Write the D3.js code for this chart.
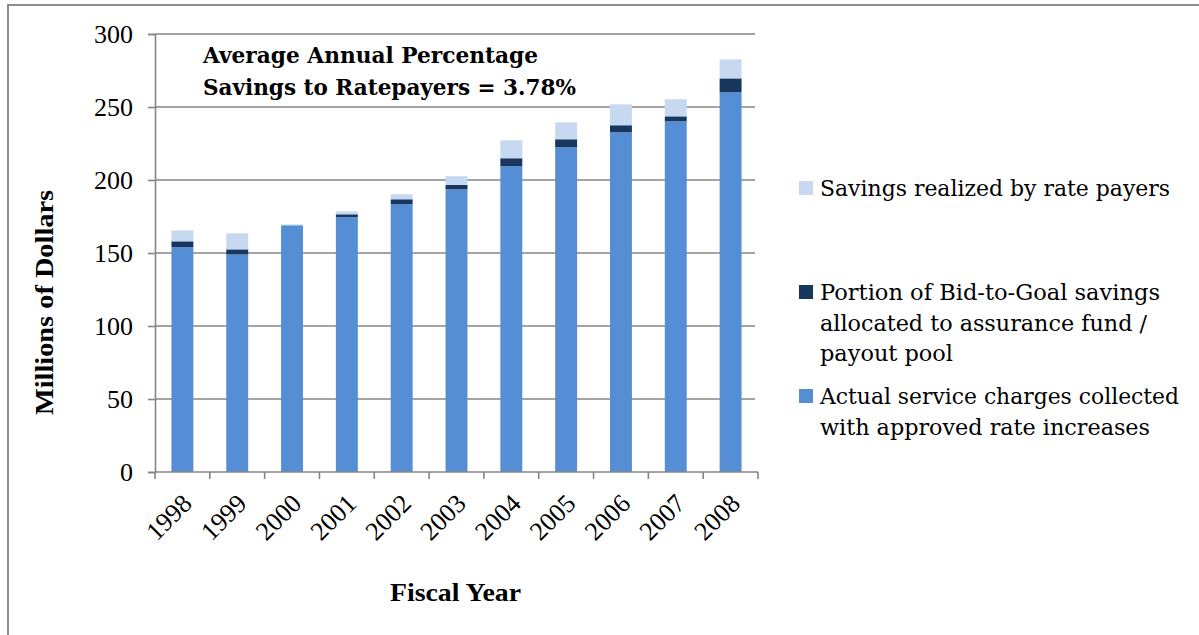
<!DOCTYPE html>
<html><head><meta charset="utf-8">
<script src="https://cdn.jsdelivr.net/npm/d3@7"></script>
<style>body{margin:0;background:#fff}svg{display:block}</style>
</head><body>
<svg id="c" width="1199" height="635"></svg>
<script>
const years = ["1998","1999","2000","2001","2002","2003","2004","2005","2006","2007","2008"];
const actualCharges = [154, 149, 169, 174.5, 183.4, 193.6, 209.4, 222.4, 232.7, 240.2, 260];
const assurancePortion = [4, 3.5, 0, 2, 3.4, 3, 5.5, 5.5, 4.8, 3.4, 9.6];
const ratepayerSavings = [7.5, 11, 0.6, 2, 3.4, 6, 12.3, 11.6, 14.3, 11.7, 13];
const yTicks = [0, 50, 100, 150, 200, 250, 300];
const seriesNames = ["Actual service charges collected with approved rate increases",
  "Portion of Bid-to-Goal savings allocated to assurance fund / payout pool",
  "Savings realized by rate payers"];
const colors = ["#558ED5", "#17375E", "#C6D9F1"];

(function(){
const svg = d3.select("#c");
const serif = "'Liberation Serif', 'Times New Roman', serif";

// outer frame (left and top edges visible)
svg.append("line").attr("x1", 8).attr("x2", 8).attr("y1", 4).attr("y2", 635)
  .attr("stroke", "#8c8c8c").attr("stroke-width", 2);
svg.append("line").attr("x1", 8).attr("x2", 1199).attr("y1", 5).attr("y2", 5)
  .attr("stroke", "#8c8c8c").attr("stroke-width", 2);

const pL = 155, pR = 758, pT = 34, pB = 472;
const x = d3.scaleBand().domain(years).range([pL, pR]);
const y = d3.scaleLinear().domain([0, 300]).range([pB, pT]);

// gridlines
svg.append("g").selectAll("line").data(yTicks.filter(d => d > 0)).join("line")
  .attr("x1", pL).attr("x2", pR - 3).attr("y1", d => y(d)).attr("y2", d => y(d))
  .attr("stroke", "#868686").attr("stroke-width", 1.6);

// y axis
const ya = svg.append("g").attr("transform", `translate(${pL},0)`)
  .call(d3.axisLeft(y).tickValues(yTicks).tickSize(7).tickPadding(15));
ya.select(".domain").attr("stroke", "#868686").attr("stroke-width", 1.6);
ya.selectAll(".tick line").attr("stroke", "#868686").attr("stroke-width", 1.6);
ya.selectAll("text").attr("font-family", serif).attr("font-size", 26).attr("fill", "#000");

// stacked bars
const data = years.map((yr, i) => ({year: yr, a: actualCharges[i], b: assurancePortion[i], c: ratepayerSavings[i]}));
const stack = d3.stack().keys(["a", "b", "c"])(data);
const bw = x.bandwidth() * 0.4;
svg.append("g").selectAll("g").data(stack).join("g").attr("fill", (d, i) => colors[i])
  .selectAll("rect").data(d => d).join("rect")
  .attr("x", d => x(d.data.year) + (x.bandwidth() - bw) / 2)
  .attr("width", bw)
  .attr("y", d => y(d[1]))
  .attr("height", d => Math.max(0, y(d[0]) - y(d[1])));

// x axis
const xa = svg.append("g").attr("transform", `translate(0,${pB})`);
xa.append("line").attr("x1", pL).attr("x2", pR).attr("y1", 0).attr("y2", 0)
  .attr("stroke", "#868686").attr("stroke-width", 1.6);
xa.selectAll("line.t").data(years.concat(["end"])).join("line").attr("class", "t")
  .attr("x1", (d, i) => pL + i * x.step()).attr("x2", (d, i) => pL + i * x.step())
  .attr("y1", 0).attr("y2", 7).attr("stroke", "#868686").attr("stroke-width", 1.6);
xa.selectAll("text").data(years).join("text")
  .attr("transform", d => `translate(${x(d) + x.bandwidth() / 2 + 11},${33}) rotate(-45)`)
  .attr("text-anchor", "end").attr("font-family", serif).attr("font-size", 26).attr("fill", "#000")
  .text(d => d);

// axis titles
svg.append("text").attr("x", 390).attr("y", 601)
  .attr("font-family", serif).attr("font-weight", "bold").attr("font-size", 25)
  .attr("textLength", 131).attr("lengthAdjust", "spacingAndGlyphs").text("Fiscal Year");
svg.append("text").attr("transform", "translate(53,415) rotate(-90)")
  .attr("font-family", serif).attr("font-weight", "bold").attr("font-size", 25)
  .attr("textLength", 225).attr("lengthAdjust", "spacingAndGlyphs").text("Millions of Dollars");

// annotation
const ann = svg.append("text").attr("font-family", "'DejaVu Serif', serif").attr("font-weight", "bold")
  .attr("font-size", 23).attr("fill", "#000");
ann.append("tspan").attr("x", 203).attr("y", 63).attr("textLength", 335).attr("lengthAdjust", "spacingAndGlyphs").text("Average Annual Percentage");
ann.append("tspan").attr("x", 203).attr("y", 95).attr("textLength", 373).attr("lengthAdjust", "spacingAndGlyphs").text("Savings to Ratepayers = 3.78%");

// legend
const legend = [
  {i: 2, sy: 181, lines: ["Savings realized by rate payers"], w: [350]},
  {i: 1, sy: 285, lines: ["Portion of Bid-to-Goal savings", "allocated to assurance fund /", "payout pool"], w: [340, 327, 133]},
  {i: 0, sy: 389, lines: ["Actual service charges collected", "with approved rate increases"], w: [359, 330]}
];
const lg = svg.append("g");
legend.forEach(L => {
  lg.append("rect").attr("x", 799).attr("y", L.sy).attr("width", 14).attr("height", 14).attr("fill", colors[L.i]);
  const t = lg.append("text").attr("font-family", "'DejaVu Serif', serif").attr("font-size", 22).attr("fill", "#000");
  L.lines.forEach((ln, k) => t.append("tspan").attr("x", 820).attr("y", L.sy + 15 + k * 30.5)
    .attr("textLength", L.w[k]).attr("lengthAdjust", "spacingAndGlyphs").text(ln));
});
})();
</script>
</body></html>
